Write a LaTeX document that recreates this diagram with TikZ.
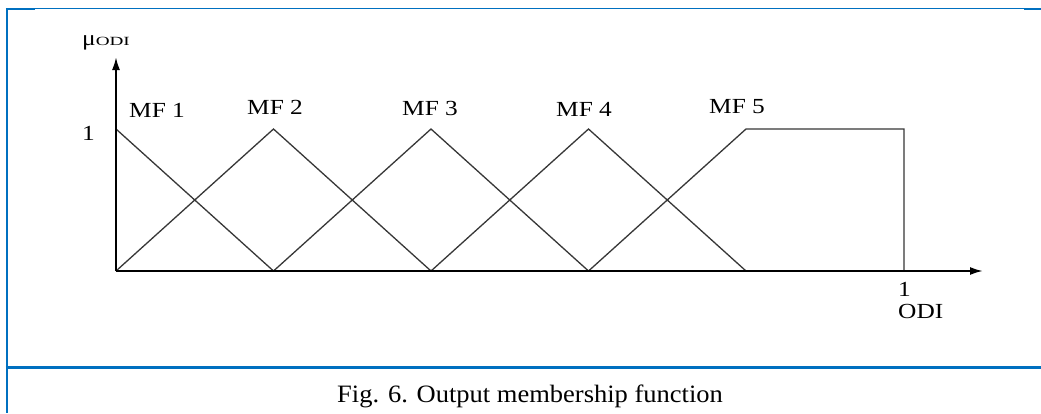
\documentclass[tikz,border=0pt]{standalone}
\usepackage{fontspec}
\setmainfont{Liberation Serif}
\usetikzlibrary{arrows.meta}
\newcommand\wtext[1]{\scalebox{1.18}[1]{#1}}
\definecolor{frameblue}{RGB}{0,112,192}
\definecolor{mfgray}{RGB}{55,55,55}
\begin{document}
\begin{tikzpicture}[x=1pt,y=-1pt,
  lbl/.style={font=\fontsize{21.5}{21.5}\selectfont, inner sep=0pt, anchor=base west},
  caplbl/.style={font=\fontsize{25}{25}\selectfont, inner sep=0pt, anchor=base west},
  axis/.style={draw=black, line width=2pt, -{Latex[length=13pt,width=8pt]}},
  mf/.style={draw=mfgray, line width=1.3pt, line join=miter},
  framethick/.style={draw=frameblue, line width=2.2pt},
  framethin/.style={draw=frameblue, line width=1.1pt}]
\useasboundingbox (0,0) rectangle (1041,413);
\fill[white] (0,0) rectangle (1041,413);
% frame
\draw[framethick] (7,8) -- (7,413);
\draw[framethick] (5.9,9) -- (35,9);
\draw[framethin] (35,8.5) -- (1024,8.5);
\draw[framethick] (1024,9) -- (1041,9);
\draw[framethick] (5.9,367.5) -- (1041,367.5);
% coordinates
\coordinate (o) at (116,271);
\coordinate (ytip) at (116,57);
\coordinate (xtip) at (983,271);
\coordinate (p1) at (116,129);
\coordinate (b2) at (273.5,271);
\coordinate (p2) at (273.5,129);
\coordinate (b3) at (431,271);
\coordinate (p3) at (431,129);
\coordinate (b4) at (588.5,271);
\coordinate (p4) at (588.5,129);
\coordinate (b5) at (746,271);
\coordinate (p5) at (746,129);
\coordinate (q5) at (904,129);
\coordinate (e5) at (904,271);
% membership functions
\draw[mf] (p1) -- (b2);
\draw[mf] (o) -- (p2) -- (b3);
\draw[mf] (b2) -- (p3) -- (b4);
\draw[mf] (b3) -- (p4) -- (b5);
\draw[mf] (b4) -- (p5) -- (q5) -- (e5);
% axes
\draw[axis] (o) -- (ytip);
\draw[axis] (o) -- (xtip);
% labels
\node[lbl] (mu) at (82,45) {\wtext{μ{\fontsize{12.5}{12.5}\selectfont\scalebox{1.3}[1]{ODI}}}};
\node[lbl] (one) at (82,140) {\wtext{1}};
\node[lbl] (mf1) at (129,117) {\wtext{MF 1}};
\node[lbl] (mf2) at (247,114) {\wtext{MF 2}};
\node[lbl] (mf3) at (402,115) {\wtext{MF 3}};
\node[lbl] (mf4) at (556,116) {\wtext{MF 4}};
\node[lbl] (mf5) at (709,113) {\wtext{MF 5}};
\node[lbl] (xone) at (898,296) {\wtext{1}};
\node[lbl] (odi) at (898,318) {\wtext{ODI}};
\node[caplbl] (cap) at (337,402) {\scalebox{1.06}[1]{Fig. 6. Output membership function}};
\end{tikzpicture}
\end{document}
